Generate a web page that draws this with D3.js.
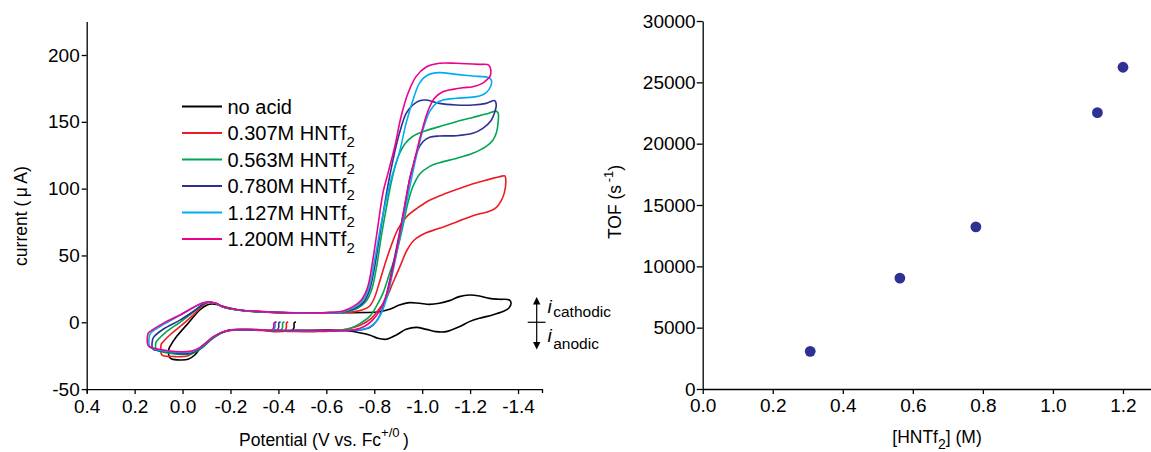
<!DOCTYPE html>
<html>
<head>
<meta charset="utf-8">
<script src="https://cdn.jsdelivr.net/npm/d3@7"></script>
<style>
  body { margin: 0; background: #fff; }
  svg text { font-family: "Liberation Sans", Arial, Helvetica, sans-serif; fill: #000; }
</style>
</head>
<body>
<svg id="fig" width="1151" height="452"></svg>
<script>
// ---------- cyclic voltammograms: [potential (V vs Fc+/0), current (µA)] ----------
const potentialTicks = [0.4, 0.2, 0.0, -0.2, -0.4, -0.6, -0.8, -1.0, -1.2, -1.4];
const currentTicks = [-50, 0, 50, 100, 150, 200];
const seriesLabels = ["no acid", "0.307M HNTf", "0.563M HNTf", "0.780M HNTf", "1.127M HNTf", "1.200M HNTf"];
const seriesSub = ["", "2", "2", "2", "2", "2"];

const cvNoAcid = [
  [-0.473, 0.4], [-0.466, -0.5], [-0.465, -4], [-0.458, -6], [-0.4, -6.2], [-0.3, -5.8], [-0.197, -5.8],
  [-0.155, -8.3], [-0.114, -13.2], [-0.079, -18.2], [-0.051, -24.5], [-0.023, -27.7], [0.011, -28.2],
  [0.045, -27.5], [0.055, -26], [0.057, -20], [0.052, -18], [0.025, -10.7], [-0.023, -0.8], [-0.072, 9.2],
  [-0.1, 12.8], [-0.125, 13.7], [-0.15, 13], [-0.183, 11.2], [-0.253, 8.7], [-0.35, 7.5], [-0.5, 7],
  [-0.614, 7.2], [-0.822, 7.9], [-0.864, 9.7], [-0.905, 12.9], [-0.947, 14.7], [-0.989, 14.2], [-1.03, 13.4],
  [-1.072, 14.2], [-1.114, 16.2], [-1.155, 19.2], [-1.197, 20.4], [-1.239, 19.7], [-1.281, 17.9], [-1.322, 17.2],
  [-1.364, 16.7], [-1.371, 14.2], [-1.361, 10.5], [-1.336, 8], [-1.294, 5.5], [-1.239, 3], [-1.197, 0.5],
  [-1.155, -3.3], [-1.1, -7], [-1.058, -7], [-1.017, -5.3], [-0.975, -3.8], [-0.933, -5.3], [-0.892, -9.5],
  [-0.85, -12.7], [-0.815, -12], [-0.78, -9.5], [-0.739, -7.8], [-0.697, -6.5], [-0.614, -5.8], [-0.5, -6],
  [-0.467, -6]
];

const cvAcid0307 = [
  [-0.441, 0.4], [-0.434, -0.5], [-0.433, -4], [-0.426, -6.5], [-0.33, -6.2], [-0.266, -5.8], [-0.2, -6.2],
  [-0.15, -9], [-0.11, -14], [-0.086, -17.5], [-0.058, -21.5], [-0.023, -25], [0.011, -25.8], [0.039, -25.6],
  [0.08, -25], [0.088, -24], [0.089, -16.5], [0.083, -15], [0.053, -9.5], [0.011, -3.3], [-0.037, 4.2],
  [-0.079, 11.7], [-0.107, 14.8], [-0.14, 14], [-0.169, 11.5], [-0.239, 9], [-0.336, 7.8], [-0.53, 6.8],
  [-0.68, 7.3], [-0.72, 8], [-0.755, 9.5], [-0.78, 12], [-0.8, 18], [-0.82, 29], [-0.842, 42],
  [-0.87, 57], [-0.9, 70], [-0.935, 79], [-0.98, 85.5], [-1.027, 91], [-1.1, 96.5], [-1.176, 101.5],
  [-1.25, 105.5], [-1.325, 109], [-1.345, 109.5], [-1.349, 105], [-1.343, 97], [-1.33, 91], [-1.31, 86],
  [-1.281, 83], [-1.221, 80.3], [-1.146, 75.3], [-1.071, 70.3], [-1.012, 66.6], [-0.967, 61.6], [-0.937, 54.1],
  [-0.907, 41.6], [-0.877, 29.2], [-0.847, 16.7], [-0.817, 9.2], [-0.788, 3], [-0.743, -2], [-0.668, -5.7],
  [-0.55, -7], [-0.45, -6.8], [-0.435, -6.8]
];

const cvAcid0563 = [
  [-0.425, 0.4], [-0.418, -0.5], [-0.417, -4], [-0.41, -6], [-0.33, -5.9], [-0.266, -5.6], [-0.183, -6.6],
  [-0.128, -11.8], [-0.079, -19.5], [-0.037, -23.5], [0.011, -24], [0.06, -23], [0.1, -21.5], [0.11, -20.5],
  [0.111, -15], [0.105, -13.5], [0.067, -7], [0.011, 0], [-0.044, 7.5], [-0.085, 13.5], [-0.107, 15],
  [-0.14, 14], [-0.169, 11.5], [-0.239, 9], [-0.336, 7.8], [-0.53, 6.8], [-0.67, 7.5], [-0.73, 10.5],
  [-0.765, 15.5], [-0.79, 25], [-0.81, 42], [-0.83, 65], [-0.855, 90], [-0.875, 108], [-0.9, 124],
  [-0.93, 134], [-0.96, 139], [-1.003, 142.6], [-1.072, 146.4], [-1.142, 150.1], [-1.211, 153.3],
  [-1.266, 155.8], [-1.308, 158], [-1.317, 156.5], [-1.317, 150], [-1.31, 142], [-1.294, 136],
  [-1.266, 131.4], [-1.211, 126.4], [-1.142, 122.6], [-1.072, 119.4], [-1.03, 116.5], [-0.99, 111],
  [-0.961, 101.4], [-0.94, 89], [-0.919, 71.5], [-0.892, 51.6], [-0.864, 36.6], [-0.836, 21.6],
  [-0.808, 11.7], [-0.78, 4.2], [-0.74, -1], [-0.7, -4.5], [-0.65, -6.2], [-0.55, -6.6], [-0.45, -6.5],
  [-0.419, -6.5]
];

const cvAcid0780 = [
  [-0.409, 0.4], [-0.402, -0.5], [-0.401, -4], [-0.394, -6], [-0.33, -5.8], [-0.266, -5.5], [-0.183, -6.5],
  [-0.128, -11.5], [-0.079, -19], [-0.037, -23], [0.011, -23.5], [0.053, -22.3], [0.11, -21], [0.124, -20],
  [0.125, -13], [0.12, -11], [0.081, -5.2], [0.011, 1.6], [-0.052, 9], [-0.09, 14], [-0.107, 15],
  [-0.14, 14], [-0.169, 11.5], [-0.239, 9], [-0.336, 7.8], [-0.53, 6.8], [-0.66, 7.5], [-0.72, 10.5],
  [-0.755, 15], [-0.78, 24], [-0.8, 40], [-0.82, 62], [-0.845, 90], [-0.865, 110], [-0.885, 127],
  [-0.905, 141.4], [-0.933, 156.3], [-0.961, 162.6], [-0.989, 165.8], [-1.017, 166.3], [-1.044, 165.1],
  [-1.072, 163.8], [-1.142, 162.6], [-1.211, 162.6], [-1.267, 163.8], [-1.303, 165.8], [-1.309, 162.6],
  [-1.301, 156.3], [-1.287, 150.8], [-1.253, 145.1], [-1.211, 141.4], [-1.142, 139.6], [-1.072, 139.4],
  [-1.031, 138.4], [-1.003, 135.1], [-0.982, 128.9], [-0.961, 116.4], [-0.947, 106.4], [-0.925, 85],
  [-0.9, 62], [-0.875, 40], [-0.85, 20], [-0.83, 8], [-0.81, 1], [-0.78, -4], [-0.74, -5.8],
  [-0.65, -6.4], [-0.45, -6.3], [-0.403, -6.3]
];

const cvAcid1127 = [
  [-0.393, 0.4], [-0.387, -0.5], [-0.385, -4], [-0.378, -5.8], [-0.33, -5.6], [-0.266, -5.3], [-0.183, -6.3],
  [-0.128, -11], [-0.079, -18.5], [-0.037, -22], [0.011, -22.5], [0.075, -21.5], [0.128, -19.5], [0.138, -18],
  [0.138, -10], [0.13, -7.5], [0.075, -1.2], [0.011, 5.2], [-0.079, 14], [-0.107, 15.2], [-0.14, 14],
  [-0.169, 11.5], [-0.239, 9], [-0.336, 7.8], [-0.53, 6.8], [-0.66, 7.6], [-0.715, 11], [-0.75, 16],
  [-0.778, 26], [-0.8, 45], [-0.825, 70], [-0.85, 92], [-0.875, 110], [-0.905, 127], [-0.933, 149],
  [-0.961, 166], [-0.989, 179], [-1.023, 185], [-1.072, 186.8], [-1.142, 185.5], [-1.211, 184.3],
  [-1.278, 183], [-1.289, 181], [-1.285, 176.3], [-1.267, 171.8], [-1.239, 169.3], [-1.197, 168.3],
  [-1.142, 167.6], [-1.086, 166.3], [-1.058, 163.8], [-1.031, 157.6], [-1.003, 143.9], [-0.975, 123.9],
  [-0.954, 106.4], [-0.93, 85], [-0.905, 62], [-0.88, 40], [-0.855, 20], [-0.83, 7], [-0.805, 0],
  [-0.775, -4], [-0.735, -5.6], [-0.65, -6.3], [-0.45, -6.2], [-0.387, -6.2]
];

const cvAcid1200 = [
  [-0.39, 0.4], [-0.382, -0.5], [-0.38, -4], [-0.373, -5.8], [-0.33, -5.7], [-0.266, -5.3], [-0.183, -6.3],
  [-0.128, -10.7], [-0.079, -18.2], [-0.037, -21.5], [0.011, -22], [0.081, -20.7], [0.136, -18.5],
  [0.145, -17], [0.145, -9], [0.14, -7.5], [0.081, -0.8], [0.011, 5.5], [-0.079, 14.2], [-0.107, 15.4],
  [-0.14, 14.2], [-0.169, 11.7], [-0.239, 9.2], [-0.336, 8], [-0.53, 6.9], [-0.62, 7.4], [-0.67, 8.5],
  [-0.711, 11.7], [-0.746, 16.7], [-0.773, 26.6], [-0.794, 46.6], [-0.815, 71.5], [-0.836, 96.5],
  [-0.858, 112], [-0.885, 131], [-0.912, 154], [-0.94, 171], [-0.975, 184], [-1.017, 191], [-1.072, 193.8],
  [-1.142, 193.8], [-1.239, 193], [-1.278, 192.5], [-1.286, 189], [-1.283, 184], [-1.273, 182],
  [-1.253, 179], [-1.211, 176.3], [-1.169, 175.5], [-1.128, 174.3], [-1.086, 172.5], [-1.051, 167.6],
  [-1.023, 157.6], [-0.996, 141.4], [-0.968, 121.4], [-0.947, 106.5], [-0.925, 85], [-0.9, 60],
  [-0.875, 38], [-0.85, 20], [-0.82, 8], [-0.79, 1], [-0.76, -3], [-0.72, -5.5], [-0.66, -6.2],
  [-0.45, -6], [-0.382, -6]
];

// ---------- turnover frequency vs acid concentration ----------
const acidConc = [0.307, 0.563, 0.780, 1.127, 1.200];
const tofValues = [3070, 9040, 13220, 22530, 26230];
const concTicks = [0.0, 0.2, 0.4, 0.6, 0.8, 1.0, 1.2];
const tofTicks = [0, 5000, 10000, 15000, 20000, 25000, 30000];

// ---------- drawing ----------
const cvSeries = [cvNoAcid, cvAcid0307, cvAcid0563, cvAcid0780, cvAcid1127, cvAcid1200];
const cvColors = ["#000000", "#ed1c24", "#00a651", "#2e3192", "#00aeef", "#ec008c"];
const TICK_FONT = 19;
const TITLE_FONT = 17.5;
const LEGEND_FONT = 20;

const svg = d3.select("#fig");

function styleAxis(g) {
  g.selectAll("path.domain").attr("stroke", "#000").attr("stroke-width", 1.3);
  g.selectAll(".tick line").attr("stroke", "#000").attr("stroke-width", 1.3);
  g.selectAll(".tick text").attr("font-size", TICK_FONT).attr("fill", "#000")
    .style("font-family", '"Liberation Sans", Arial, sans-serif');
}

// ----- left panel: CVs -----
const xL = d3.scaleLinear().domain([0.4, -1.5]).range([86.7, 542]);
const yL = d3.scaleLinear().domain([-50, 225]).range([389.1, 21.6]);

svg.append("g").attr("transform", `translate(0,${yL(-50)})`)
  .call(d3.axisBottom(xL).tickValues(potentialTicks).tickFormat(d => d.toFixed(1))
    .tickSize(5).tickPadding(5).tickSizeOuter(4))
  .call(styleAxis);

svg.append("g").attr("transform", `translate(${xL(0.4)},0)`)
  .call(d3.axisLeft(yL).tickValues(currentTicks).tickFormat(d => d.toFixed(0))
    .tickSize(5).tickPadding(2).tickSizeOuter(0))
  .call(styleAxis);

const cvLine = d3.line()
  .x(d => xL(d[0]))
  .y(d => yL(d[1]))
  .curve(d3.curveCatmullRom.alpha(0.5));

svg.append("g").attr("fill", "none").attr("stroke-width", 1.6).attr("stroke-linejoin", "round")
  .selectAll("path").data(cvSeries).join("path")
  .attr("stroke", (d, i) => cvColors[i])
  .attr("d", cvLine);

// legend
const legend = svg.append("g").attr("transform", "translate(182,106.5)");
seriesLabels.forEach((lab, i) => {
  const row = legend.append("g").attr("transform", `translate(0,${i * 26.5})`);
  row.append("line").attr("x1", 0).attr("x2", 40).attr("y1", 0).attr("y2", 0)
    .attr("stroke", cvColors[i]).attr("stroke-width", 1.8);
  const t = row.append("text").attr("x", 45.5).attr("y", 7).attr("font-size", LEGEND_FONT).text(lab);
  if (seriesSub[i]) t.append("tspan").attr("dy", 7).attr("font-size", 15).text(seriesSub[i]);
});

// axis titles
svg.append("text")
  .attr("transform", `translate(27,216) rotate(-90)`)
  .attr("text-anchor", "middle").attr("font-size", TITLE_FONT)
  .text("current (\u2009\u03bc\u2009A)");

const xtL = svg.append("text").attr("x", 324).attr("y", 446)
  .attr("text-anchor", "middle").attr("font-size", TITLE_FONT);
xtL.append("tspan").text("Potential (V vs. Fc");
xtL.append("tspan").attr("dy", -9).attr("font-size", 13).text("+/0");
xtL.append("tspan").attr("dy", 9).text("\u2009)");

// current-direction marker
const mark = svg.append("g");
const ax = 536.7, y0 = yL(0);
mark.append("line").attr("x1", ax).attr("x2", ax).attr("y1", 302).attr("y2", 344)
  .attr("stroke", "#000").attr("stroke-width", 1.2);
mark.append("line").attr("x1", 527.7).attr("x2", 545.5).attr("y1", y0).attr("y2", y0)
  .attr("stroke", "#000").attr("stroke-width", 1.2);
mark.append("path").attr("d", `M${ax},297 L${ax - 3.7},304.5 L${ax + 3.7},304.5 Z`).attr("fill", "#000");
mark.append("path").attr("d", `M${ax},349.5 L${ax - 3.7},342 L${ax + 3.7},342 Z`).attr("fill", "#000");
const tc = svg.append("text").attr("x", 547.5).attr("y", 313.3).attr("font-size", 19);
tc.append("tspan").attr("font-style", "italic").text("i");
tc.append("tspan").attr("dx", 1.5).attr("dy", 4).attr("font-size", 15.5).text("cathodic");
const ta = svg.append("text").attr("x", 547.5).attr("y", 342.3).attr("font-size", 19);
ta.append("tspan").attr("font-style", "italic").text("i");
ta.append("tspan").attr("dx", 1.5).attr("dy", 6.5).attr("font-size", 15.5).text("anodic");

// ----- right panel: TOF -----
const xR = d3.scaleLinear().domain([0, 1.28]).range([702.7, 1151]);
const yR = d3.scaleLinear().domain([0, 30000]).range([389, 21]);

svg.append("g").attr("transform", `translate(0,${yR(0)})`)
  .call(d3.axisBottom(xR).tickValues(concTicks).tickFormat(d => d.toFixed(1))
    .tickSize(5).tickPadding(5).tickSizeOuter(0))
  .call(styleAxis);

svg.append("g").attr("transform", `translate(${xR(0)},0)`)
  .call(d3.axisLeft(yR).tickValues(tofTicks).tickFormat(d => String(d))
    .tickSize(6).tickPadding(1).tickSizeOuter(0))
  .call(styleAxis);

svg.append("g").selectAll("circle").data(acidConc).join("circle")
  .attr("cx", d => xR(d))
  .attr("cy", (d, i) => yR(tofValues[i]))
  .attr("r", 5.4)
  .attr("fill", "#2e3192");

const ytR = svg.append("text")
  .attr("transform", `translate(621,202) rotate(-90)`)
  .attr("text-anchor", "middle").attr("font-size", TITLE_FONT);
ytR.append("tspan").text("TOF (s");
ytR.append("tspan").attr("dy", -8).attr("font-size", 13).text("\u2009-1");
ytR.append("tspan").attr("dy", 8).text(")");

const xtR = svg.append("text").attr("x", 937).attr("y", 443)
  .attr("text-anchor", "middle").attr("font-size", TITLE_FONT);
xtR.append("tspan").text("[HNTf");
xtR.append("tspan").attr("dy", 6).attr("font-size", 14).text("2");
xtR.append("tspan").attr("dy", -6).text("] (M)");
</script>
</body>
</html>
